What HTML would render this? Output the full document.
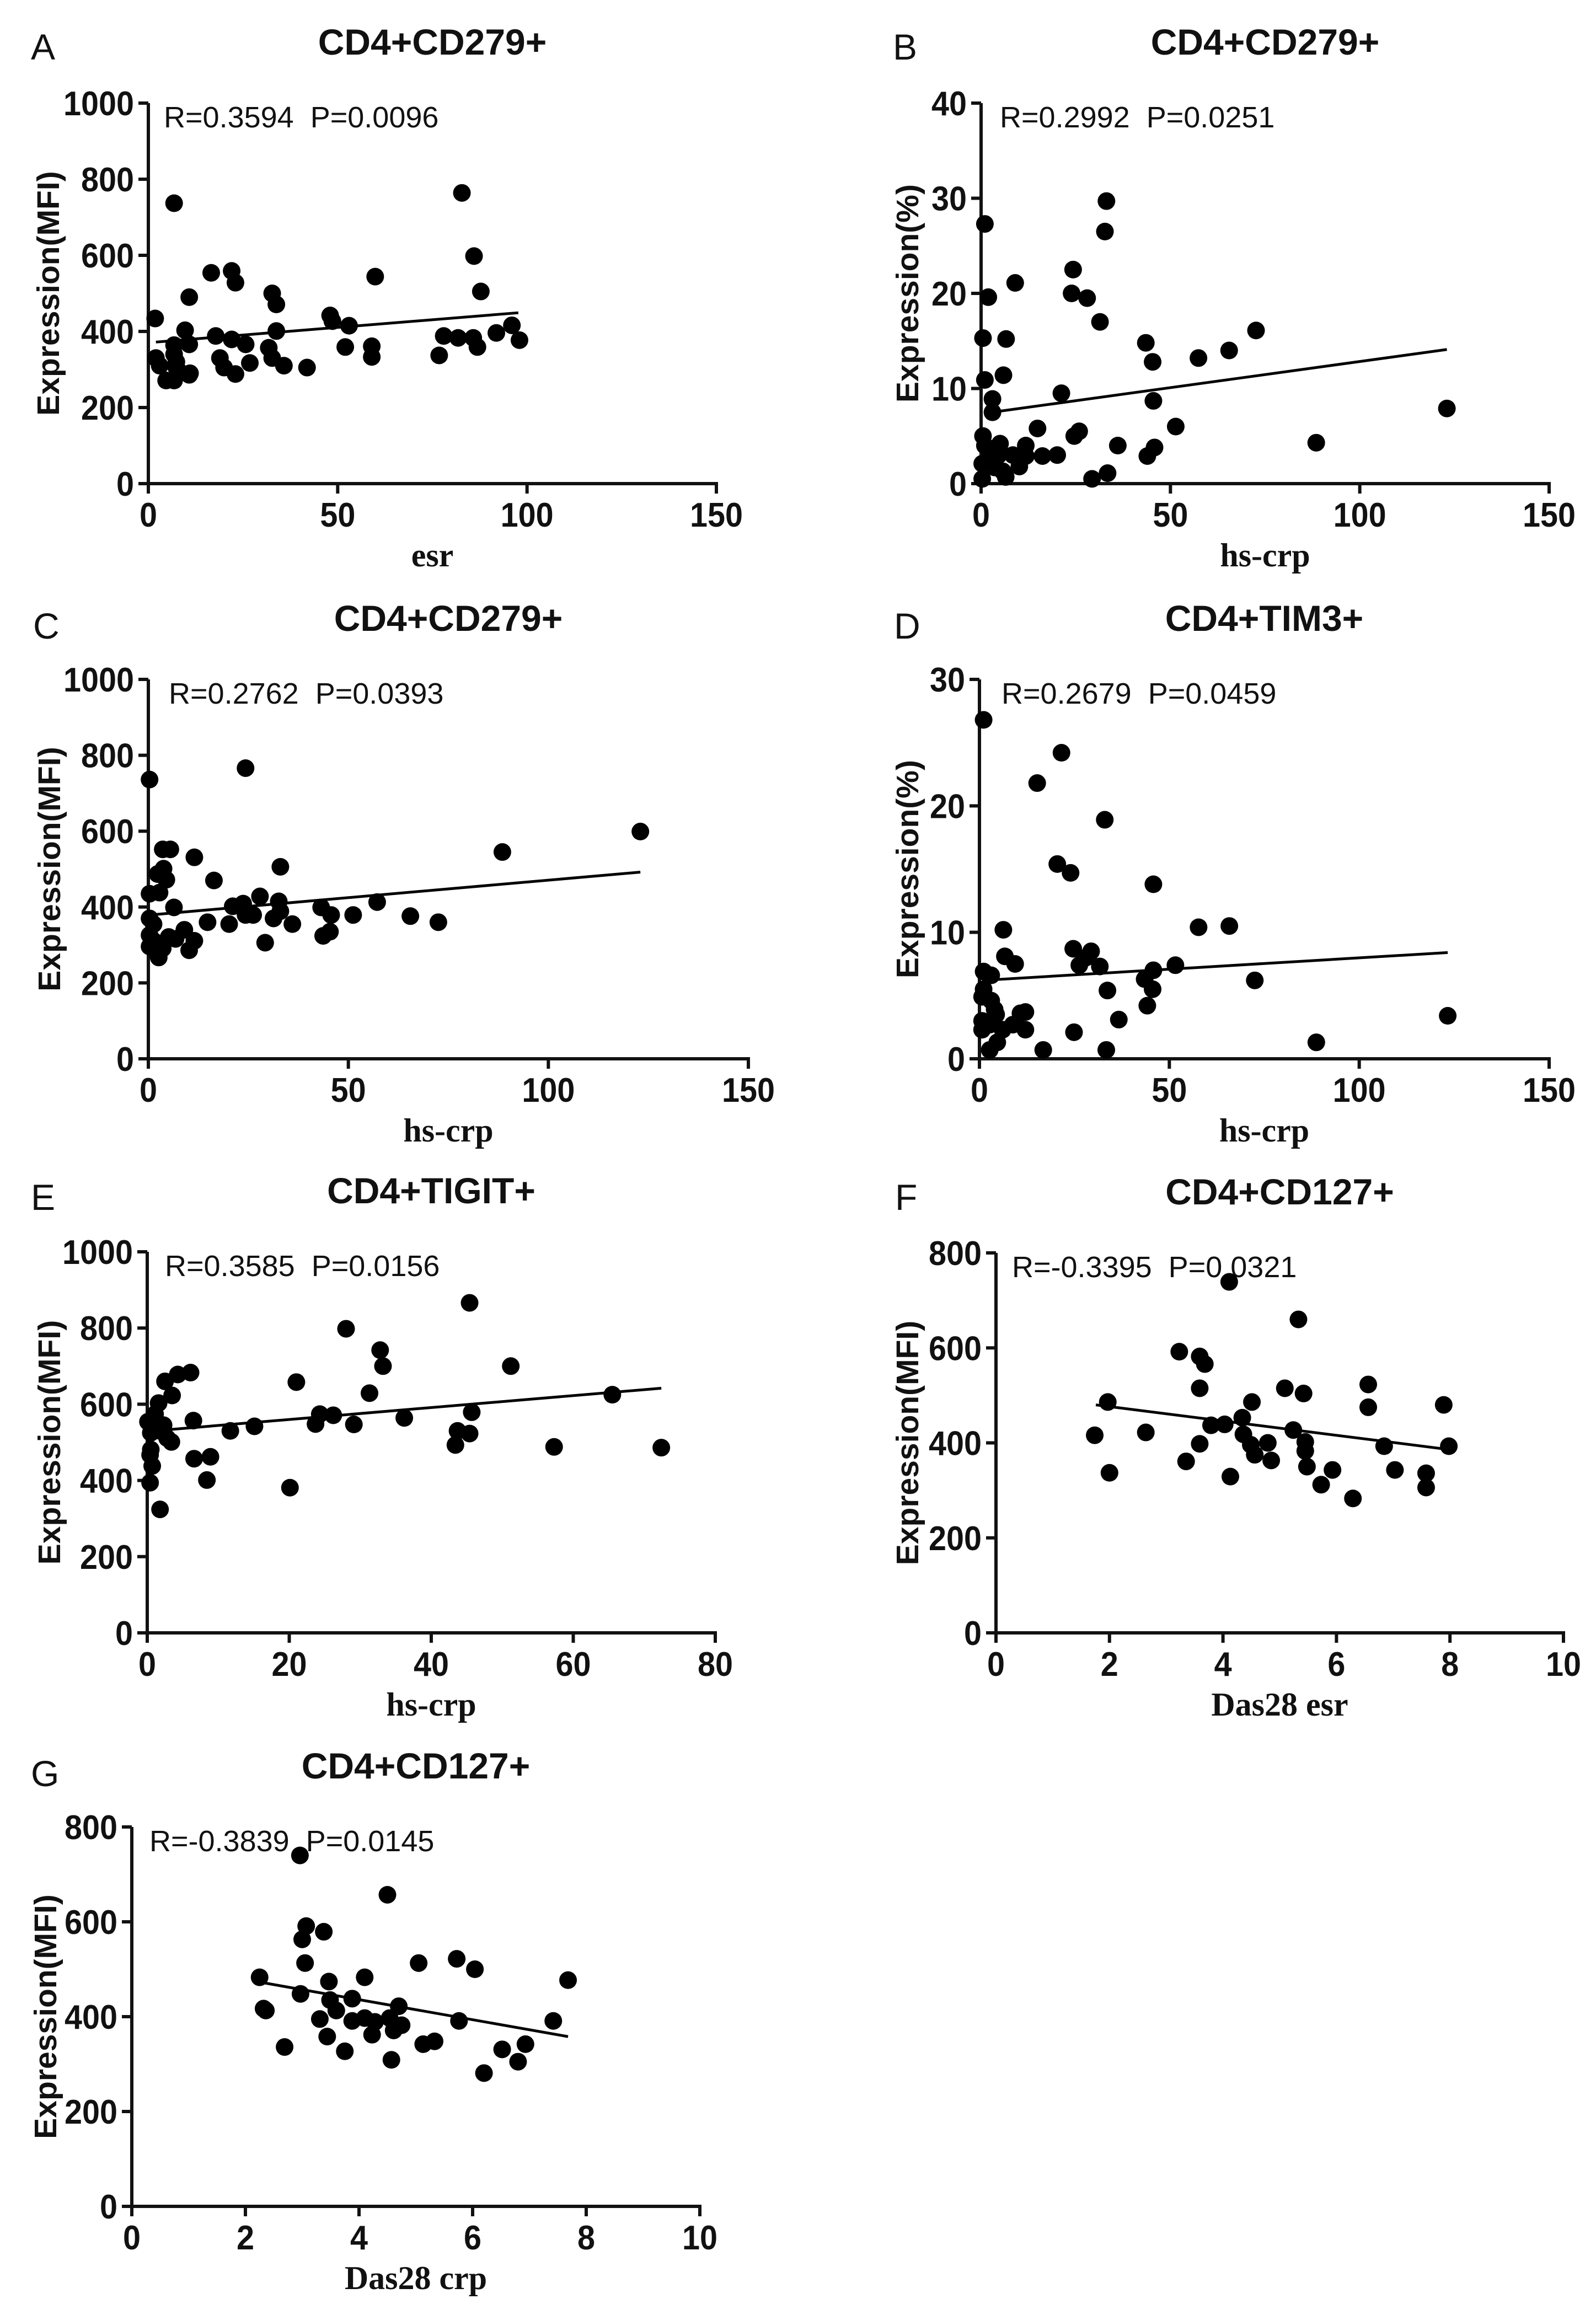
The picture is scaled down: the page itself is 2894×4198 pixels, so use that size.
<!DOCTYPE html>
<html><head><meta charset="utf-8"><title>Correlation scatter plots</title>
<style>
html,body{margin:0;padding:0;background:#fff;}
svg{display:block;}
</style></head>
<body>
<svg id="fig" xmlns="http://www.w3.org/2000/svg" width="2894" height="4198" viewBox="0 0 2894 4198"></svg>
<script>
// ---------- DATA ----------
const aX=[1.8,2,3,6.8,6.8,6.8,7.4,8,4.7,6.8,7.4,9.7,10.8,10.8,11,10.8,16.6,17.8,18.9,20,22,23,22,23,25.7,26.8,32.7,33.8,33.8,31.8,32.7,35.8,41.9,48,48.6,53,52,59.9,59,59,76.8,78,81.8,82.8,86,87.8,85.8,86.9,91.9,96,98];
const aY=[434,330,310,737,364,340,320,296,271,271,305,403,366,490,290,286,554,388,330,305,559,528,379,288,366,317,500,471,401,357,330,310,305,442,427,415,359,544,361,333,337,388,383,764,598,505,383,359,396,416,377];
const aFitX=[2,97.7]; const aFitY=[372,449];

const bX=[1,1.9,0.5,1,3,3,9,6.6,5.9,0.5,1,0.3,0.3,2.3,3.6,5,4.6,5.7,6.5,8.4,10.1,11.8,11.8,14.9,16.2,20.1,21.2,24.3,23.9,28,31.4,33.1,32.7,24.6,25.9,29.3,33.4,36.1,43.5,45.3,45.5,43.9,45.8,51.4,57.4,65.5,72.6,88.5,123];
const bY=[27.3,19.6,15.3,10.9,8.9,7.5,21.1,15.2,11.4,5,4,2.1,0.5,2.9,1.7,4.2,3,1.3,0.7,3,1.8,4,2.9,5.8,2.9,3,9.5,22.5,20,19.5,17,29.7,26.5,5,5.5,0.5,1.1,4,14.8,12.8,8.7,2.9,3.8,6,13.2,14,16.1,4.3,7.9];
const bFitX=[1,123]; const bFitY=[7.4,14.1];

const cX=[0.3,0.3,0.3,0.3,0.3,1.3,1.3,1.9,2.6,3.6,2.8,2.3,3.6,5.5,3.8,4.5,6.4,5.1,6.8,9,10.2,11.5,11.5,16.4,14.8,20.2,21.1,23.7,24.3,24.3,26.2,27.9,29.2,31.3,33,32.6,33,36,43.2,43.7,45.4,45.7,51.2,57.2,65.5,72.5,88.5,123];
const cY=[736,435,370,326,296,355,311,286,267,291,438,487,552,552,501,472,399,321,316,340,286,311,531,470,360,355,402,409,766,379,379,428,306,370,506,415,389,355,399,324,335,379,379,413,376,360,545,599];
const cFitX=[0.3,123]; const cFitY=[379,492];

const dX=[1.1,21.6,15.2,33,20.5,24,45.8,6.3,57.7,65.8,6.7,9.4,24.7,29.4,28,26.3,31.7,51.6,45.8,1.1,3.1,43.5,72.5,1.1,0.7,33.7,45.6,3.1,4,44.2,4.4,10.8,12.1,0.7,0.7,2.7,6.1,8.8,12.1,36.7,24.9,4.7,2.7,16.8,33.4,88.7,123.3];
const dY=[26.8,24.2,21.8,18.9,15.4,14.7,13.8,10.2,10.4,10.5,8.1,7.5,8.7,8.5,8,7.4,7.3,7.4,7,6.9,6.6,6.3,6.2,5.5,4.9,5.4,5.5,4.6,3.9,4.2,3.5,3.6,3.7,3,2.3,2.7,2.3,2.7,2.3,3.1,2.1,1.3,0.7,0.7,0.7,1.3,3.4];
const dFitX=[0.7,123.3]; const dFitY=[6.2,8.4];

const eX=[45.4,28,32.8,33.2,51.2,21,31.3,65.5,2.5,4.3,6.1,3.5,1.6,1.1,0.1,2.3,6.5,0.5,1.8,2.8,3.4,0.5,0.4,11.7,15.1,23.7,24.3,26.2,29.1,36.2,45.7,43.7,45.4,43.4,57.3,72.4,6.6,8.9,8.4,0.7,0.4,1.8,20.1];
const eY=[866,798,742,700,700,658,629,625,660,678,683,623,603,574,554,545,557,525,530,511,501,481,467,530,542,548,574,571,547,564,579,530,523,493,488,486,457,462,401,438,394,324,381];
const eFitX=[0.9,72.4]; const eFitY=[530,642];

const fX=[4.11,5.33,3.23,3.59,3.68,3.59,5.09,5.42,6.56,6.56,7.89,1.97,4.51,4.34,3.79,4.03,5.24,1.74,2.64,4.36,4.49,4.79,3.59,5.45,4.56,5.45,6.84,7.98,4.85,3.35,5.48,5.93,7.03,7.58,2.0,4.13,5.73,7.58,6.29];
const fY=[739,660,592,582,566,515,515,504,523,475,480,486,486,453,437,439,427,416,422,418,396,400,398,402,375,383,393,393,363,361,350,343,343,336,337,329,312,306,283];
const fFitX=[1.76,7.98]; const fFitY=[480,386];

const gX=[2.96,4.5,3.07,3.38,3.0,3.05,5.05,5.72,6.04,7.68,2.25,4.1,3.47,2.97,3.49,3.88,4.7,3.6,2.32,2.36,3.31,3.88,4.1,4.28,4.54,4.75,4.61,5.76,7.42,3.44,4.23,5.13,5.33,2.69,3.75,4.57,6.52,6.93,6.8,6.2];
const gY=[740,657,591,579,563,513,513,522,500,477,483,483,474,448,435,438,422,413,417,413,395,391,397,389,397,382,371,391,391,358,362,342,348,336,327,309,331,342,305,281];
const gFitX=[2.15,7.68]; const gFitY=[475,358];

const xTicksWide=[0,50,100,150];
const xTicksE=[0,20,40,60,80];
const xTicksDas=[0,2,4,6,8,10];
const yTicksMFI=[0,200,400,600,800,1000];
const yTicksPct40=[0,10,20,30,40];
const yTicksPct30=[0,10,20,30];
const yTicksMFI800=[0,200,400,600,800];

// ---------- LAYOUT ----------
const NS='http://www.w3.org/2000/svg';
const svg=document.getElementById('fig');
function mk(tag,attrs,parent,text){
  const e=document.createElementNS(NS,tag);
  for(const k in attrs) e.setAttribute(k,attrs[k]);
  if(text!==undefined) e.textContent=text;
  (parent||svg).appendChild(e); return e;
}
const panels=[
 {id:'a',letter:'A',title:'CD4+CD279+',xt:'esr',yt:'Expression(MFI)',stat:'R=0.3594  P=0.0096',
  x0:269,x1:1299,y0:877,y1:187,xTicks:xTicksWide,yTicks:yTicksMFI,xs:aX,ys:aY,fx:aFitX,fy:aFitY,lx:56,lb:108,ytOff:181,sOff:28},
 {id:'b',letter:'B',title:'CD4+CD279+',xt:'hs-crp',yt:'Expression(%)',stat:'R=0.2992  P=0.0251',
  x0:1779,x1:2809,y0:877,y1:187,xTicks:xTicksWide,yTicks:yTicksPct40,xs:bX,ys:bY,fx:bFitX,fy:bFitY,lx:1619,lb:108,ytOff:133,sOff:34},
 {id:'c',letter:'C',title:'CD4+CD279+',xt:'hs-crp',yt:'Expression(MFI)',stat:'R=0.2762  P=0.0393',
  x0:269,x1:1357,y0:1920,y1:1232,xTicks:xTicksWide,yTicks:yTicksMFI,xs:cX,ys:cY,fx:cFitX,fy:cFitY,lx:60,lb:1158,ytOff:179,sOff:37},
 {id:'d',letter:'D',title:'CD4+TIM3+',xt:'hs-crp',yt:'Expression(%)',stat:'R=0.2679  P=0.0459',
  x0:1776,x1:2809,y0:1920,y1:1232,xTicks:xTicksWide,yTicks:yTicksPct30,xs:dX,ys:dY,fx:dFitX,fy:dFitY,lx:1621,lb:1158,ytOff:130,sOff:40},
 {id:'e',letter:'E',title:'CD4+TIGIT+',xt:'hs-crp',yt:'Expression(MFI)',stat:'R=0.3585  P=0.0156',
  x0:267,x1:1297,y0:2961,y1:2270,xTicks:xTicksE,yTicks:yTicksMFI,xs:eX,ys:eY,fx:eFitX,fy:eFitY,lx:56,lb:2194,ytOff:177,sOff:32},
 {id:'f',letter:'F',title:'CD4+CD127+',xt:'Das28 esr',yt:'Expression(MFI)',stat:'R=-0.3395  P=0.0321',
  x0:1806,x1:2835,y0:2961,y1:2272,xTicks:xTicksDas,yTicks:yTicksMFI800,xs:fX,ys:fY,fx:fFitX,fy:fFitY,lx:1623,lb:2194,ytOff:160,sOff:29},
 {id:'g',letter:'G',title:'CD4+CD127+',xt:'Das28 crp',yt:'Expression(MFI)',stat:'R=-0.3839  P=0.0145',
  x0:239,x1:1269,y0:4001,y1:3313,xTicks:xTicksDas,yTicks:yTicksMFI800,xs:gX,ys:gY,fx:gFitX,fy:gFitY,lx:56,lb:3239,ytOff:156,sOff:32}
];

panels.forEach(p=>{
  const xmax=p.xTicks[p.xTicks.length-1], ymax=p.yTicks[p.yTicks.length-1];
  const sx=v=>p.x0+(v/xmax)*(p.x1-p.x0);
  const sy=v=>p.y0-(v/ymax)*(p.y0-p.y1);
  const g=mk('g',{});
  
  
  const L=mk('text',{x:p.lx,y:p.lb,'font-family':'Liberation Sans, sans-serif','font-size':66,fill:'#111'},g,p.letter);
  
  
  const T=mk('text',{x:(p.x0+p.x1)/2,y:p.y1-88,'text-anchor':'middle','font-family':'Liberation Sans, sans-serif','font-weight':'bold','font-size':66,fill:'#111'},g,p.title);
  
  
  const ya=mk('line',{x1:p.x0,y1:p.y1,x2:p.x0,y2:p.y0+3,stroke:'#111','stroke-width':6},g);
  
  
  const xa=mk('line',{x1:p.x0-3,y1:p.y0,x2:p.x1+3,y2:p.y0,stroke:'#111','stroke-width':6},g);
  
  
  p.yTicks.forEach(t=>{
    const y=sy(t);
    const tk=mk('line',{x1:p.x0-18,y1:y,x2:p.x0,y2:y,stroke:'#111','stroke-width':6},g);
    
    
    const s=String(t);
    const tl=mk('text',{x:p.x0-26,y:y+22,'text-anchor':'end','font-family':'Liberation Sans, sans-serif','font-weight':'bold','font-size':62,fill:'#111',textLength:s.length*32,lengthAdjust:'spacingAndGlyphs'},g,s);
    
    
  });
  p.xTicks.forEach(t=>{
    const x=sx(t);
    const tk=mk('line',{x1:x,y1:p.y0,x2:x,y2:p.y0+18,stroke:'#111','stroke-width':6},g);
    
    
    const s=String(t);
    const tl=mk('text',{x:x,y:p.y0+78,'text-anchor':'middle','font-family':'Liberation Sans, sans-serif','font-weight':'bold','font-size':62,fill:'#111',textLength:s.length*32,lengthAdjust:'spacingAndGlyphs'},g,s);
    
    
  });
  const xt=mk('text',{x:(p.x0+p.x1)/2,y:p.y0+150,'text-anchor':'middle','font-family':'Liberation Serif, serif','font-weight':'bold','font-size':60,fill:'#111'},g,p.xt);
  
  
  const cx=p.x0-p.ytOff, cy=(p.y0+p.y1)/2;
  const yt=mk('text',{x:cx,y:cy,'text-anchor':'middle','dominant-baseline':'central','font-family':'Liberation Sans, sans-serif','font-weight':'bold','font-size':57,fill:'#111',transform:'rotate(-90 '+cx+' '+cy+')'},g,p.yt);
  
  
  const st=mk('text',{x:p.x0+p.sOff,y:p.y1+44,'font-family':'Liberation Sans, sans-serif','font-size':54,fill:'#111',style:'white-space:pre'},g,p.stat);
  
  
  p.xs.forEach((v,i)=>{
    const c=mk('circle',{cx:sx(v),cy:sy(p.ys[i]),r:16,fill:'#000'},g);
    
    
  });
  const fl=mk('line',{x1:sx(p.fx[0]),y1:sy(p.fy[0]),x2:sx(p.fx[1]),y2:sy(p.fy[1]),stroke:'#000','stroke-width':5},g);
  
  
});
</script>
</body></html>
